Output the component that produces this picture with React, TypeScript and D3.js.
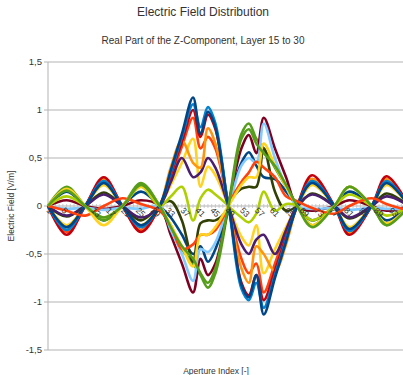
import React from 'react';
import * as d3 from 'd3';

const apertureIdx = [1, 6, 11, 16, 21, 26, 31, 34, 37, 40, 42, 44, 46, 49, 50, 53, 55, 57, 59, 62, 65, 68, 72, 78, 82, 88, 92, 98];

const layerNames = ['Layer 15', 'Layer 16', 'Layer 17', 'Layer 18', 'Layer 19', 'Layer 20', 'Layer 21', 'Layer 22',
  'Layer 23', 'Layer 24', 'Layer 25', 'Layer 26', 'Layer 27', 'Layer 28', 'Layer 29', 'Layer 30'];

const layerColors = ['#004586', '#ff420e', '#ffd320', '#579d1c', '#7e0021', '#83caff', '#314004', '#aecf00',
  '#4b1f6f', '#ff950e', '#c5000b', '#0084d1', '#004586', '#ff420e', '#ffd320', '#579d1c'];

const layer15 = [0, 0.15, 0, -0.15, 0, 0.15, 0, -0.12, -0.3, -0.5, -0.42, -0.58, -0.45, -0.08, 0.08, 0.45, 0.56, 0.42, 0.3, 0.28, 0.15, 0, -0.15, 0, 0.15, 0, -0.15, 0];
const layer16 = [0, -0.27, 0, 0.27, 0, -0.25, 0, 0.3, 0.62, 0.92, 0.6, 0.72, 0.6, 0.1, -0.08, -0.55, -0.7, -0.6, -0.9, -0.6, -0.28, 0, 0.28, 0, -0.28, 0, 0.28, 0];
const layer17 = [0, -0.2, 0, 0.22, 0, -0.2, 0, 0.22, 0.45, 0.7, 0.2, 0.41, 0.32, 0.05, -0.05, -0.32, -0.41, -0.2, -0.7, -0.45, -0.22, 0, 0.22, 0, -0.22, 0, 0.22, 0];
const layer18 = [0, 0.2, 0, -0.15, 0, 0.24, 0, -0.25, -0.45, -0.6, -0.72, -0.85, -0.7, -0.12, 0.12, 0.75, 0.86, 0.7, 0.6, 0.4, 0.2, 0, -0.2, 0, 0.2, 0, -0.2, 0];
const layer19 = [0, 0.06, 0, -0.03, 0, 0.06, 0, -0.3, -0.6, -0.9, -0.55, -0.72, -0.6, -0.1, 0.1, 0.6, 0.74, 0.55, 0.92, 0.6, 0.3, 0, -0.05, 0, 0.06, 0, -0.05, 0];
const layer20 = [0, -0.03, -0.02, -0.04, -0.02, -0.03, 0, -0.25, -0.5, -0.78, -0.45, -0.48, -0.38, -0.05, 0.05, 0.42, 0.5, 0.45, 0.86, 0.5, 0.2, 0, -0.03, -0.02, -0.04, -0.02, -0.03, -0.03];
const layer21 = [0, -0.11, 0, 0.14, 0, -0.15, 0, 0.05, -0.15, -0.58, -0.18, -0.15, -0.15, -0.05, 0.05, 0.18, 0.2, 0.2, 0.6, 0.15, -0.05, 0, 0.13, 0, -0.13, 0, 0.13, 0];
const layer22 = [0, 0.1, 0, -0.12, 0, 0.2, 0, 0.1, 0.2, -0.15, 0.08, 0.17, 0.12, 0.02, -0.02, -0.12, -0.17, -0.08, 0.15, -0.05, 0.02, 0, -0.15, 0, 0.12, 0, -0.1, 0];
const layer23 = [0, -0.1, 0, 0.12, 0, -0.12, 0, 0.25, 0.5, 0.3, 0.35, 0.5, 0.4, 0.06, -0.06, -0.4, -0.5, -0.35, -0.3, -0.5, -0.25, 0, 0.12, 0, -0.12, 0, 0.1, 0];
const layer24 = [0, -0.25, 0, 0.28, 0, -0.26, 0, 0.4, 0.68, 0.45, 0.4, 0.81, 0.65, 0.1, -0.1, -0.65, -0.8, -0.42, -0.5, -0.68, -0.4, 0, 0.28, 0, -0.28, 0, 0.28, 0];
const layer25 = [0, -0.3, 0, 0.3, 0, -0.27, 0, 0.33, 0.67, 1.0, 0.72, 0.95, 0.8, 0.12, -0.1, -0.8, -0.93, -0.72, -0.98, -0.67, -0.33, 0, 0.32, 0, -0.3, 0, 0.31, 0];
const layer26 = [0, -0.25, 0, 0.26, 0, -0.22, 0, 0.35, 0.72, 1.06, 0.82, 1.03, 0.86, 0.12, -0.12, -0.86, -0.98, -0.8, -1.06, -0.72, -0.35, 0, 0.26, 0, -0.26, 0, 0.26, 0];
const layer27 = [0, -0.22, 0, 0.24, 0, -0.2, 0, 0.37, 0.75, 1.13, 0.75, 0.98, 0.82, 0.1, -0.1, -0.82, -0.95, -0.72, -1.13, -0.75, -0.37, 0, 0.24, 0, -0.24, 0, 0.24, 0];
const layer28 = [0, -0.05, -0.1, 0, 0.08, 0.02, -0.05, -0.2, -0.45, -0.4, -0.3, -0.3, -0.25, -0.05, 0.05, 0.25, 0.35, 0.46, 0.4, 0.3, 0.1, 0.05, -0.02, -0.08, 0, 0.08, 0.02, -0.05];
const layer29 = [0, 0.18, 0, -0.2, 0, 0.2, 0, -0.2, -0.42, -0.63, -0.3, -0.3, -0.22, -0.03, 0.03, 0.22, 0.3, 0.3, 0.65, 0.42, 0.2, 0, -0.2, 0, 0.2, 0, -0.18, 0];
const layer30 = [0, 0.16, 0, -0.12, 0, 0.22, 0, -0.22, -0.42, -0.55, -0.7, -0.8, -0.65, -0.1, 0.1, 0.7, 0.8, 0.65, 0.55, 0.42, 0.22, 0, -0.22, 0, 0.2, 0, -0.2, 0];

const layerValues = [layer15, layer16, layer17, layer18, layer19, layer20, layer21, layer22,
  layer23, layer24, layer25, layer26, layer27, layer28, layer29, layer30];

const xCategories = d3.range(1, 99);
const xTickLabels = [1, 5, 9, 13, 17, 21, 25, 29, 33, 37, 41, 45, 49, 53, 57, 61, 65, 69, 73, 77, 81, 85, 89, 93];
const yTicks = [-1.5, -1, -0.5, 0, 0.5, 1, 1.5];

const W = 403;
const H = 375;
const plot = { left: 48, right: 408.8, top: 62, bottom: 350 };

export default function App() {
  const x = d3.scaleLinear().domain([1, 98]).range([plot.left, plot.right]);
  const y = d3.scaleLinear().domain([-1.5, 1.5]).range([plot.bottom, plot.top]);
  const line = d3.line<[number, number]>()
    .x(d => x(d[0]))
    .y(d => y(d[1]))
    .curve(d3.curveCatmullRom.alpha(0.5));
  const fmt = (v: number) => String(v).replace('.', ',');
  const font = 'Liberation Sans, Arial, sans-serif';

  return (
    <svg width={W} height={H} style={{ position: 'absolute', left: 0, top: 0, background: '#fff' }} fontFamily={font}>
      <defs>
        <clipPath id="plotClip">
          <rect x={plot.left - 2} y={plot.top - 10} width={W - plot.left + 2} height={plot.bottom - plot.top + 20} />
        </clipPath>
      </defs>
      <text x={203} y={16} textAnchor="middle" fontSize={12} fill="#333">Electric Field Distribution</text>
      <text x={203} y={44} textAnchor="middle" fontSize={10} fill="#333">Real Part of the Z-Component, Layer 15 to 30</text>

      {yTicks.map(t => (
        <g key={t}>
          <line x1={plot.left} x2={W} y1={y(t)} y2={y(t)} stroke="#b3b3b3" strokeWidth={1} />
          <line x1={plot.left - 4} x2={plot.left} y1={y(t)} y2={y(t)} stroke="#b3b3b3" strokeWidth={1} />
          <text x={plot.left - 6} y={y(t) + 3} textAnchor="end" fontSize={9.5} fill="#333">{fmt(t)}</text>
        </g>
      ))}
      <line x1={plot.left} x2={plot.left} y1={plot.top} y2={plot.bottom} stroke="#b3b3b3" />

      {xCategories.map(c => (
        <line key={c} x1={x(c)} x2={x(c)} y1={y(0) - 2} y2={y(0) + 2} stroke="#c0c0c0" strokeWidth={0.8} />
      ))}

      <g clipPath="url(#plotClip)">
        {layerValues.map((vals, i) => (
          <path key={layerNames[i]} d={line(apertureIdx.map((a, j) => [a, vals[j]] as [number, number])) || ''}
            fill="none" stroke={layerColors[i]} strokeWidth={2.6} strokeLinejoin="round" />
        ))}
      </g>

      {xTickLabels.map(c => (
        <text key={c} transform={`translate(${x(c) - 2},${y(0) + 5}) rotate(45)`} fontSize={8.5} fill="#333">{c}</text>
      ))}

      <text transform={`translate(14,${y(0)}) rotate(-90)`} textAnchor="middle" fontSize={8.5} fill="#333">Electric Field [V/m]</text>
      <text x={216} y={374} textAnchor="middle" fontSize={8.5} fill="#333">Aperture Index [-]</text>
    </svg>
  );
}
